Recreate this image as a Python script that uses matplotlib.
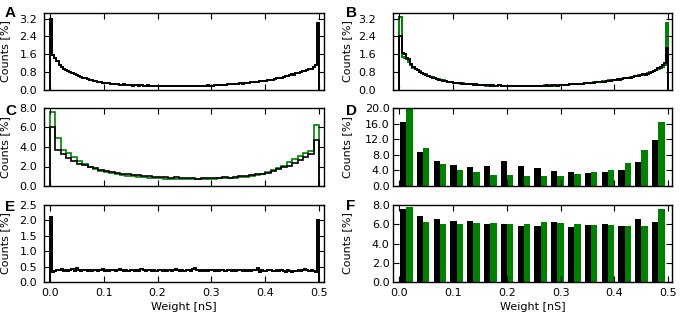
import numpy as np
import matplotlib
matplotlib.use("Agg")
import matplotlib.pyplot as plt
from matplotlib.ticker import FormatStrFormatter, MultipleLocator

# ---------------- data ----------------
# Panel A: fine histogram (125 bins over 0..0.5 nS), counts in %
a_vals = [3.20, 1.55, 1.45, 1.30, 1.12, 1.02, 0.95, 0.90, 0.86, 0.79,
          0.74, 0.70, 0.66, 0.61, 0.58, 0.55, 0.52, 0.50, 0.46, 0.44,
          0.40, 0.39, 0.36, 0.35, 0.33, 0.31, 0.30, 0.33, 0.27, 0.26,
          0.25, 0.26, 0.24, 0.23, 0.25, 0.22, 0.21, 0.23, 0.20, 0.22,
          0.21, 0.19, 0.22, 0.20, 0.18, 0.21, 0.19, 0.18, 0.20, 0.17,
          0.19, 0.18, 0.20, 0.17, 0.18, 0.19, 0.17, 0.18, 0.16, 0.18,
          0.17, 0.19, 0.17, 0.16, 0.18, 0.17, 0.19, 0.18, 0.17, 0.19,
          0.18, 0.20, 0.19, 0.21, 0.20, 0.20, 0.22, 0.21, 0.23, 0.22,
          0.24, 0.23, 0.25, 0.26, 0.25, 0.27, 0.28, 0.27, 0.30, 0.29,
          0.31, 0.33, 0.32, 0.35, 0.36, 0.35, 0.38, 0.40, 0.39, 0.42,
          0.41, 0.44, 0.47, 0.46, 0.50, 0.52, 0.55, 0.54, 0.58, 0.61,
          0.63, 0.66, 0.70, 0.69, 0.74, 0.78, 0.80, 0.85, 0.83, 0.90,
          0.95, 0.93, 1.02, 1.10, 3.00]

# Panel B: two fine histograms
b_black = [2.40, 1.65, 1.60, 1.45, 1.40, 1.15, 1.02, 0.95, 0.88, 0.82,
           0.76, 0.72, 0.68, 0.62, 0.60, 0.56, 0.52, 0.50, 0.47, 0.45,
           0.42, 0.40, 0.38, 0.36, 0.35, 0.33, 0.32, 0.30, 0.31, 0.28,
           0.27, 0.26, 0.27, 0.25, 0.24, 0.25, 0.23, 0.22, 0.24, 0.21,
           0.22, 0.21, 0.20, 0.22, 0.19, 0.20, 0.21, 0.19, 0.18, 0.20,
           0.19, 0.18, 0.17, 0.19, 0.18, 0.17, 0.18, 0.19, 0.17, 0.18,
           0.17, 0.18, 0.19, 0.18, 0.20, 0.19, 0.18, 0.20, 0.21, 0.19,
           0.20, 0.22, 0.21, 0.20, 0.22, 0.23, 0.22, 0.24, 0.23, 0.25,
           0.26, 0.25, 0.27, 0.28, 0.27, 0.29, 0.31, 0.30, 0.32, 0.31,
           0.33, 0.35, 0.34, 0.36, 0.38, 0.37, 0.40, 0.42, 0.41, 0.44,
           0.46, 0.48, 0.47, 0.50, 0.53, 0.52, 0.55, 0.56, 0.59, 0.62,
           0.61, 0.64, 0.66, 0.70, 0.69, 0.73, 0.78, 0.82, 0.86, 0.90,
           0.98, 1.05, 1.12, 1.22, 1.90]
b_green = [3.25, 1.50, 1.45, 1.40, 1.25, 1.10, 1.00, 0.93, 0.90, 0.84,
           0.78, 0.72, 0.70, 0.64, 0.60, 0.57, 0.54, 0.50, 0.48, 0.44,
           0.43, 0.40, 0.38, 0.37, 0.34, 0.33, 0.31, 0.30, 0.29, 0.30,
           0.27, 0.26, 0.25, 0.27, 0.24, 0.23, 0.22, 0.24, 0.21, 0.22,
           0.20, 0.22, 0.21, 0.19, 0.20, 0.18, 0.21, 0.19, 0.20, 0.18,
           0.17, 0.19, 0.18, 0.17, 0.19, 0.18, 0.16, 0.18, 0.17, 0.19,
           0.18, 0.17, 0.18, 0.19, 0.18, 0.20, 0.19, 0.21, 0.19, 0.20,
           0.21, 0.20, 0.22, 0.21, 0.23, 0.22, 0.24, 0.23, 0.24, 0.26,
           0.25, 0.27, 0.26, 0.28, 0.29, 0.28, 0.30, 0.32, 0.31, 0.33,
           0.34, 0.36, 0.35, 0.37, 0.39, 0.38, 0.41, 0.43, 0.42, 0.45,
           0.47, 0.46, 0.49, 0.51, 0.53, 0.52, 0.56, 0.58, 0.60, 0.63,
           0.62, 0.66, 0.69, 0.68, 0.72, 0.76, 0.80, 0.79, 0.85, 0.88,
           0.92, 0.98, 1.05, 1.10, 3.00]

# Panel C: coarser histograms (50 bins)
c_black = [6.0, 3.7, 3.3, 2.9, 2.6, 2.3, 2.2, 2.0, 1.8, 1.6,
           1.5, 1.4, 1.3, 1.2, 1.25, 1.1, 1.15, 1.0, 1.0, 0.95,
           0.95, 0.9, 0.85, 0.9, 0.85, 0.8, 0.85, 0.75, 0.8, 0.8,
           0.85, 0.8, 0.9, 0.85, 0.95, 1.0, 1.05, 1.1, 1.2, 1.25,
           1.35, 1.5, 1.7, 1.9, 2.1, 2.4, 2.7, 3.0, 3.3, 4.7]
c_green = [7.6, 4.9, 3.7, 3.4, 3.0, 2.6, 2.3, 2.0, 1.7, 1.5,
           1.4, 1.3, 1.2, 1.1, 1.05, 1.0, 0.95, 0.9, 0.85, 0.8,
           0.8, 0.75, 0.75, 0.7, 0.7, 0.75, 0.7, 0.7, 0.75, 0.7,
           0.75, 0.8, 0.8, 0.85, 0.85, 0.9, 0.95, 1.0, 1.1, 1.2,
           1.4, 1.6, 1.8, 2.1, 2.5, 2.8, 3.1, 3.4, 3.6, 6.3]

# Panel D: bar histograms (16 bins)
d_black = [16.3, 8.7, 6.4, 5.3, 4.8, 5.1, 6.4, 5.1, 4.5, 3.9, 3.6, 3.4, 3.5, 4.1, 6.1, 11.8]
d_green = [20.0, 9.8, 5.6, 4.1, 3.5, 2.9, 2.9, 2.6, 2.6, 2.6, 3.1, 3.6, 4.2, 5.9, 9.2, 16.4]

# Panel E: flat fine histogram
e_vals = [2.10, 0.32, 0.36, 0.40, 0.38, 0.42, 0.37, 0.39, 0.36, 0.38,
          0.41, 0.37, 0.44, 0.39, 0.36, 0.40, 0.38, 0.35, 0.39, 0.37,
          0.40, 0.38, 0.36, 0.39, 0.41, 0.37, 0.38, 0.36, 0.40, 0.38,
          0.37, 0.39, 0.42, 0.38, 0.36, 0.39, 0.37, 0.40, 0.38, 0.36,
          0.39, 0.37, 0.41, 0.38, 0.36, 0.40, 0.38, 0.37, 0.39, 0.36,
          0.38, 0.40, 0.37, 0.39, 0.36, 0.38, 0.37, 0.39, 0.41, 0.38,
          0.36, 0.39, 0.37, 0.38, 0.40, 0.37, 0.42, 0.44, 0.38, 0.36,
          0.39, 0.37, 0.38, 0.36, 0.40, 0.38, 0.37, 0.39, 0.36, 0.38,
          0.40, 0.37, 0.39, 0.38, 0.36, 0.39, 0.37, 0.40, 0.38, 0.36,
          0.38, 0.37, 0.39, 0.36, 0.38, 0.40, 0.46, 0.33, 0.39, 0.37,
          0.36, 0.38, 0.40, 0.37, 0.35, 0.38, 0.36, 0.39, 0.37, 0.34,
          0.38, 0.36, 0.33, 0.37, 0.35, 0.38, 0.36, 0.39, 0.42, 0.38,
          0.37, 0.40, 0.36, 0.31, 2.00]

# Panel F: bar histograms (16 bins)
f_black = [7.6, 6.9, 6.5, 6.3, 6.3, 6.0, 6.0, 5.8, 5.8, 6.2, 5.7, 5.9, 6.0, 5.85, 6.5, 6.2]
f_green = [7.8, 6.2, 6.0, 6.0, 6.15, 6.1, 6.0, 6.0, 6.2, 6.1, 6.0, 5.95, 5.95, 5.8, 5.8, 7.6]

x_ticks = [0.0, 0.1, 0.2, 0.3, 0.4, 0.5]
x_ticklabels = ["0.0", "0.1", "0.2", "0.3", "0.4", "0.5"]

# ---------------- figure ----------------
W, H = 680, 318
fig = plt.figure(figsize=(W / 100, H / 100), dpi=100)
plt.rcParams['font.family'] = ['DejaVu Sans']

GREEN = "#008000"
FS = 8


def px_axes(l, r, t, b):
    return fig.add_axes([l / W, 1 - b / H, (r - l) / W, (b - t) / H])


def style(ax, ylim, ystep, xlim, pad, bottom_labels):
    ax.set_xlim(*xlim)
    ax.set_ylim(*ylim)
    ax.yaxis.set_major_locator(MultipleLocator(ystep))
    ax.yaxis.set_major_formatter(FormatStrFormatter("%.1f"))
    ax.set_xticks(x_ticks)
    ax.tick_params(direction="in", top=True, right=True, length=4, width=0.8,
                   labelsize=FS, colors="black")
    ax.tick_params(axis="y", pad=pad)
    ax.tick_params(axis="x", pad=4)
    if bottom_labels:
        ax.set_xticklabels(x_ticklabels)
        ax.set_xlabel("Weight [nS]", fontsize=FS, labelpad=3)
    else:
        ax.set_xticklabels([])
    for s in ax.spines.values():
        s.set_linewidth(1.0)
        s.set_color("black")


LX = (-0.011, 0.509)
RX = (-0.012, 0.507)

fine_edges = np.linspace(0, 0.5, len(a_vals) + 1)
coarse_edges = np.linspace(0, 0.5, len(c_black) + 1)

# A
axA = px_axes(44, 324, 13, 90)
axA.stairs(a_vals, fine_edges, baseline=0, color="black", lw=1.4)
style(axA, (0, 3.45), 0.8, LX, 5, False)
axA.set_ylabel("Counts [%]", fontsize=FS)
axA.yaxis.set_label_coords(-0.121, 0.5)

# B
axB = px_axes(393, 672, 13, 90)
axB.stairs(b_green, fine_edges, baseline=0, color=GREEN, lw=1.4)
axB.stairs(b_black, fine_edges, baseline=0, color="black", lw=1.4)
style(axB, (0, 3.45), 0.8, RX, 12, False)
axB.set_ylabel("Counts [%]", fontsize=FS)
axB.yaxis.set_label_coords(-0.147, 0.5)

# C
axC = px_axes(44, 324, 108, 186)
axC.stairs(c_green, coarse_edges, baseline=0, color=GREEN, lw=1.2)
axC.stairs(c_black, coarse_edges, baseline=0, color="black", lw=1.2)
style(axC, (0, 8.0), 2.0, LX, 5, False)
axC.set_ylabel("Counts [%]", fontsize=FS)
axC.yaxis.set_label_coords(-0.121, 0.5)

# D and F bars
nb = len(d_black)
bin_w = 0.5 / nb
bin_left = np.arange(nb) * bin_w
bar_w = 0.0117

axD = px_axes(393, 672, 108, 186)
axD.bar(bin_left + 0.001, d_black, width=bar_w, align="edge", color="black", lw=0)
axD.bar(bin_left + 0.001 + bar_w, d_green, width=bar_w, align="edge", color=GREEN, lw=0)
style(axD, (0, 20.0), 4.0, RX, 2.5, False)
axD.set_ylabel("Counts [%]", fontsize=FS)
axD.yaxis.set_label_coords(-0.147, 0.5)

# E
axE = px_axes(44, 324, 205, 282)
axE.stairs(e_vals, fine_edges, baseline=0, color="black", lw=1.4)
style(axE, (0, 2.5), 0.5, LX, 5, True)
axE.set_ylabel("Counts [%]", fontsize=FS)
axE.yaxis.set_label_coords(-0.121, 0.5)

# F
axF = px_axes(393, 672, 205, 282)
axF.bar(bin_left + 0.001, f_black, width=bar_w, align="edge", color="black", lw=0)
axF.bar(bin_left + 0.001 + bar_w, f_green, width=bar_w, align="edge", color=GREEN, lw=0)
style(axF, (0, 8.0), 2.0, RX, 2.5, True)
axF.set_ylabel("Counts [%]", fontsize=FS)
axF.yaxis.set_label_coords(-0.147, 0.5)

# panel letters
letters = [("A", 5, 17), ("B", 346, 17), ("C", 5, 115), ("D", 346, 115),
           ("E", 5, 211), ("F", 346, 210)]
for t, x, y in letters:
    fig.text(x / W, 1 - y / H, t, fontsize=11, fontweight="bold",
             family="Liberation Sans", ha="left", va="baseline")

fig.savefig("out.png", dpi=100)
